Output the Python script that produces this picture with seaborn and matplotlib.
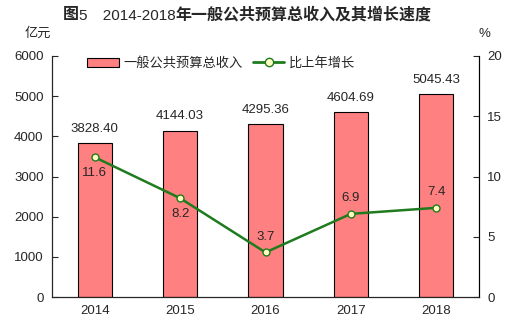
import matplotlib
matplotlib.use("Agg")
import matplotlib.pyplot as plt
import seaborn as sns
import pandas as pd
from matplotlib.patches import Patch
from matplotlib.lines import Line2D

years = ["2014", "2015", "2016", "2017", "2018"]
revenue = [3828.40, 4144.03, 4295.36, 4604.69, 5045.43]
growth = [11.6, 8.2, 3.7, 6.9, 7.4]
left_ticks = [0, 1000, 2000, 3000, 4000, 5000, 6000]
right_ticks = [0, 5, 10, 15, 20]

sns.set_style("white")
plt.rcParams['font.family'] = ['Liberation Sans', 'Noto Sans CJK SC']

BAR = "#FF8080"
GREEN = "#1E7B1E"
MFC = "#FFFFC0"

df = pd.DataFrame({"year": years, "revenue": revenue, "growth": growth})

fig = plt.figure(figsize=(5.10, 3.36), dpi=100)
ax = fig.add_axes([52/510, 39/336, 427/510, 241/336])

sns.barplot(data=df, x="year", y="revenue", ax=ax, color=BAR, saturation=1,
            width=0.4, edgecolor="black", linewidth=0.8)
ax.set_ylim(0, 6000)
ax.set_yticks(left_ticks)
ax.set_xlabel("")
ax.set_ylabel("")
ax.spines["top"].set_visible(False)
for s in ["left", "bottom", "right"]:
    ax.spines[s].set_color("black")
    ax.spines[s].set_linewidth(0.8)
ax.tick_params(axis="y", direction="in", length=4, width=0.8, labelsize=9.5, pad=6, left=True)
ax.tick_params(axis="x", length=0, labelsize=9.5, pad=6)

for i, v in enumerate(revenue):
    ax.annotate(f"{v:.2f}", (i, v), xytext=(0, 6), textcoords="offset points",
                ha="center", va="bottom", fontsize=9.5)

ax2 = ax.twinx()
sns.pointplot(data=df, x="year", y="growth", ax=ax2, color=GREEN, markers="o",
              linewidth=1.8, markersize=5, markerfacecolor=MFC, markeredgecolor=GREEN,
              markeredgewidth=1)
ax2.set_ylim(0, 20)
ax2.set_yticks(right_ticks)
ax2.set_ylabel("")
ax2.set_xlabel("")
ax2.spines["top"].set_visible(False)
ax2.spines["right"].set_color("black")
ax2.spines["right"].set_linewidth(0.8)
ax2.tick_params(axis="y", direction="in", length=4, width=0.8, labelsize=9.5, pad=6, right=True)
ax2.set_xlim(-0.5, 4.5)
ax.set_xlim(-0.5, 4.5)

offsets = [-1, -1, 1, 1, 1]
for i, (v, o) in enumerate(zip(growth, offsets)):
    ax2.annotate(f"{v}", (i, v), xytext=(0, 7*o), textcoords="offset points",
                 ha="center", va="top" if o < 0 else "bottom", fontsize=9.5)

handles = [Patch(facecolor=BAR, edgecolor="black", linewidth=0.8),
           Line2D([0], [0], color=GREEN, lw=2, marker="o", markersize=6,
                  markerfacecolor=MFC, markeredgecolor=GREEN)]
ax.legend(handles, ["一般公共预算总收入", "比上年增长"], loc="upper left",
          bbox_to_anchor=(0.055, 1.045), ncol=2, frameon=False, fontsize=9.5,
          handlelength=2.4, handleheight=0.7, columnspacing=0.8, handletextpad=0.3)

# title with mixed weights
ty = 1 - 15/336
t1 = fig.text(63/510, ty, "图", ha="left", va="center", fontsize=11.5, fontweight="bold")
t2 = ax.annotate("5　2014-2018", xy=(1, 0), xycoords=t1, xytext=(0, 0),
                 textcoords="offset points", ha="left", va="bottom", fontsize=11,
                 annotation_clip=False)
t3 = ax.annotate("年一般公共预算总收入及其增长速度", xy=(1, 0), xycoords=t2,
                 ha="left", va="bottom", fontsize=11.5, fontweight="bold",
                 annotation_clip=False)

fig.text(38/510, 1 - 34/336, "亿元", ha="center", va="center", fontsize=9.5)
fig.text(484/510, 1 - 34/336, "%", ha="center", va="center", fontsize=9.5)

fig.savefig("out.png", dpi=100)
